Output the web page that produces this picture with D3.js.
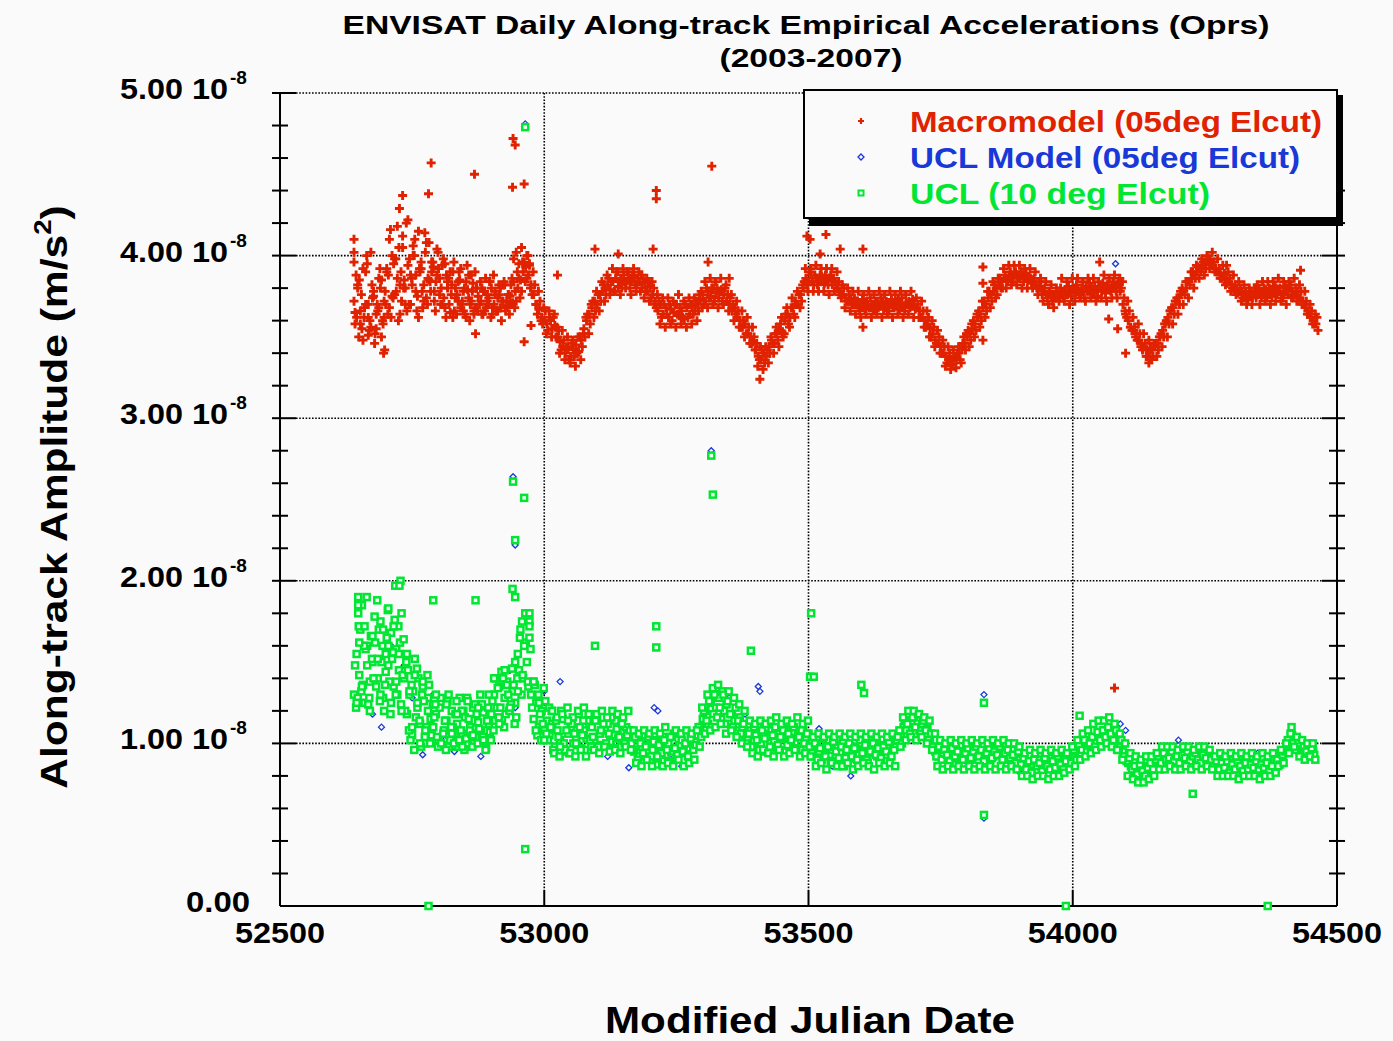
<!DOCTYPE html>
<html><head><meta charset="utf-8">
<script src="https://cdn.jsdelivr.net/npm/d3@7"></script>
<style>body{margin:0;background:#fafafa}svg{display:block}</style>
</head><body><svg id="c" width="1393" height="1041"></svg>
<script>
// ---- text ----
const titleLines = ["ENVISAT Daily Along-track Empirical Accelerations (Oprs)", "(2003-2007)"];
const xAxisTitle = "Modified Julian Date";
const yAxisTitle = "Along-track Amplitude (m/s";
const seriesNames = ["Macromodel (05deg Elcut)", "UCL Model (05deg Elcut)", "UCL (10 deg Elcut)"];
// ---- ticks ----
const xTicks = [52500, 53000, 53500, 54000, 54500];
const xGrid = [53000, 53500, 54000];
const yTicks = [0, 1, 2, 3, 4, 5];           // in units of 10^-8 m/s^2
const yTickText = ["0.00", "1.00 10", "2.00 10", "3.00 10", "4.00 10", "5.00 10"];
const yTickExp = ["", "-8", "-8", "-8", "-8", "-8"];
const yMinor = [0.2,0.4,0.6,0.8,1.2,1.4,1.6,1.8,2.2,2.4,2.6,2.8,3.2,3.4,3.6,3.8,4.2,4.4,4.6,4.8];
// ---- data (values in 10^-8 m/s^2), sampled every 5 days from start MJD ----
const startMJD = 52640, startMJD2 = 52642, startMJD3 = 52644, stepDays = 5;
const macroValues = [
3.72,3.62,3.85,3.55,3.68,3.95,3.60,3.74,3.52,3.66,3.80,3.58,
3.70,3.88,3.62,3.95,3.78,4.05,3.72,3.85,3.66,3.98,3.82,4.10,3.75,3.90,3.68,4.02,3.86,3.78,3.93,3.84,
3.92,3.80,3.74,3.88,3.70,3.82,3.66,3.76,3.85,3.72,3.64,3.79,3.70,3.83,3.68,3.75,
3.72,3.78,3.68,3.74,3.80,3.70,3.66,3.76,3.72,3.82,3.69,3.75,3.71,3.78,
3.80,3.85,3.90,3.93,3.88,
3.82,3.76,3.70,3.67,3.62,
3.60,3.58,3.62,3.55,3.57,
3.50,3.47,3.44,3.40,3.43,3.38,3.42,3.45,3.41,3.48,
3.55,3.60,3.64,3.68,3.72,3.70,3.76,3.78,3.80,
3.82,3.79,3.84,3.86,3.81,3.85,3.88,3.83,3.86,3.84,3.87,3.82,
3.84,3.80,3.83,3.78,3.81,3.76,
3.72,3.66,3.70,3.64,3.68,3.62,3.67,3.65,3.70,3.63,3.66,3.61,3.68,3.64,3.69,3.66,3.70,
3.73,3.76,3.72,3.78,3.75,3.80,3.77,3.74,3.79,3.76,3.72,
3.70,3.66,3.68,3.62,3.60,3.56,3.58,3.52,3.50,3.47,
3.42,3.38,3.36,3.40,3.38,
3.44,3.48,3.46,3.52,3.55,3.53,3.60,3.64,3.62,3.68,3.72,3.70,3.76,
3.80,3.86,3.84,3.88,3.82,3.86,3.84,3.87,3.83,3.85,3.86,3.82,3.84,3.80,
3.78,3.76,3.74,3.72,3.73,3.70,
3.70,3.68,3.71,3.69,3.72,3.68,3.70,3.67,3.71,3.69,3.72,3.70,3.68,3.71,3.69,3.70,3.73,3.70,3.68,3.71,3.72,3.69,3.70,
3.68,3.66,3.62,3.60,3.58,3.55,3.52,3.48,3.46,3.44,
3.40,3.38,3.36,3.35,3.37,3.36,3.40,3.43,
3.46,3.50,3.52,3.55,3.58,3.62,3.64,3.68,3.70,3.74,3.76,3.78,3.80,
3.82,3.84,3.86,3.85,3.88,3.87,3.89,3.88,3.86,3.88,3.87,3.85,3.86,
3.84,3.82,3.80,3.81,3.78,3.76,3.77,3.74,3.76,
3.78,3.75,3.77,3.79,3.76,3.78,3.80,3.77,3.79,3.76,3.78,3.81,3.78,3.80,3.77,3.79,3.81,3.78,3.80,3.82,3.79,3.81,3.80,3.82,3.78,
3.70,3.64,3.60,3.56,
3.54,3.52,3.48,3.46,3.44,3.42,3.40,3.42,3.44,3.46,3.50,
3.54,3.58,3.62,3.66,3.68,3.72,3.74,3.76,3.78,3.80,
3.84,3.86,3.88,3.90,3.92,3.93,3.95,3.96,3.97,
3.94,3.92,3.90,3.88,3.87,3.85,3.84,3.82,3.80,3.79,3.78,3.77,3.76,3.75,3.76,3.74,
3.77,3.76,3.78,3.77,3.79,3.76,3.78,3.77,3.80,3.78,3.76,3.77,3.79,3.80,3.78,3.76,3.78,
3.74,3.72,3.68,3.66,3.62,3.60,3.58];
// second daily sample set, offset by two days
const macroValues2 = [
3.58,3.82,3.66,3.48,3.90,3.70,3.56,3.78,3.64,3.86,3.50,3.72,
3.92,3.68,4.00,3.76,3.86,3.64,4.12,3.80,3.94,3.70,4.06,3.88,3.62,3.96,3.82,3.74,4.08,3.90,3.72,3.88,
3.76,3.94,3.68,3.84,3.90,3.62,3.80,3.72,3.92,3.66,3.84,3.74,3.88,3.64,3.80,3.70,
3.80,3.66,3.76,3.84,3.64,3.78,3.74,3.68,3.82,3.66,3.76,3.70,3.84,3.72,
3.86,3.78,3.96,3.86,3.94,
3.76,3.82,3.64,3.72,3.58,
3.66,3.54,3.60,3.62,3.50,
3.54,3.42,3.48,3.44,3.36,3.46,3.38,3.40,3.50,3.44,
3.50,3.64,3.58,3.72,3.66,3.76,3.72,3.82,3.76,
3.86,3.84,3.78,3.90,3.84,3.80,3.84,3.90,3.80,3.88,3.82,3.86,
3.78,3.86,3.78,3.84,3.74,3.80,
3.68,3.72,3.62,3.70,3.64,3.70,3.60,3.70,3.64,3.68,3.62,3.70,3.62,3.70,3.64,3.72,3.66,
3.78,3.70,3.80,3.74,3.80,3.72,3.80,3.78,3.72,3.80,3.76,
3.74,3.70,3.64,3.66,3.56,3.60,3.52,3.56,3.46,3.50,
3.46,3.36,3.42,3.34,3.42,
3.40,3.46,3.52,3.48,3.58,3.50,3.64,3.58,3.68,3.64,3.70,3.76,3.72,
3.84,3.82,3.90,3.84,3.88,3.82,3.88,3.84,3.88,3.82,3.88,3.86,3.82,3.84,
3.74,3.80,3.72,3.76,3.70,3.74,
3.72,3.66,3.73,3.67,3.70,3.74,3.66,3.72,3.68,3.74,3.67,3.72,3.66,3.73,3.68,3.72,3.67,3.74,3.66,3.70,3.68,3.73,3.67,
3.70,3.62,3.66,3.56,3.62,3.50,3.56,3.46,3.50,3.40,
3.44,3.34,3.40,3.33,3.38,3.40,3.36,3.46,
3.42,3.54,3.48,3.60,3.54,3.66,3.60,3.72,3.66,3.78,3.72,3.82,3.76,
3.86,3.80,3.88,3.84,3.90,3.84,3.90,3.86,3.90,3.84,3.89,3.87,3.83,
3.86,3.80,3.84,3.76,3.80,3.74,3.78,3.72,3.74,
3.75,3.80,3.74,3.77,3.81,3.75,3.79,3.82,3.76,3.80,3.74,3.78,3.83,3.77,3.81,3.75,3.80,3.83,3.77,3.82,3.78,3.84,3.78,3.83,3.80,
3.74,3.62,3.66,3.54,
3.56,3.48,3.52,3.42,3.46,3.38,3.43,3.38,3.46,3.42,3.52,
3.50,3.60,3.58,3.68,3.64,3.74,3.70,3.80,3.76,3.84,
3.82,3.90,3.86,3.93,3.90,3.96,3.92,3.98,3.95,
3.96,3.90,3.92,3.86,3.89,3.83,3.86,3.80,3.82,3.77,3.80,3.74,3.78,3.73,3.78,3.76,
3.74,3.79,3.75,3.80,3.74,3.80,3.75,3.81,3.76,3.80,3.74,3.81,3.76,3.82,3.75,3.80,3.74,
3.78,3.70,3.72,3.64,3.66,3.58,3.62];
// third daily sample set, offset by four days (wider day-to-day scatter)
const macroValues3 = [
3.88,3.50,3.76,3.62,4.00,3.54,3.82,3.46,3.70,3.92,3.60,3.78,
3.64,4.16,3.74,3.98,3.60,3.90,3.80,4.20,3.70,3.86,4.00,3.66,3.92,3.78,4.14,3.70,3.84,3.96,3.66,4.02,
3.70,3.98,3.62,3.86,3.76,3.96,3.64,3.90,3.70,3.80,3.94,3.60,3.78,3.90,3.66,3.84,
3.64,3.86,3.70,3.62,3.88,3.66,3.82,3.60,3.84,3.72,3.64,3.86,3.68,3.90,
3.74,3.96,3.84,4.00,3.80,
3.90,3.70,3.78,3.60,3.68,
3.52,3.66,3.50,3.64,3.56,
3.40,3.54,3.36,3.50,3.34,3.48,3.32,3.50,3.36,3.52,
3.62,3.52,3.70,3.62,3.78,3.66,3.84,3.72,3.88,
3.76,3.92,3.78,3.90,3.76,3.92,3.80,3.90,3.76,3.92,3.78,3.90,
3.88,3.74,3.86,3.72,3.84,3.70,
3.76,3.58,3.74,3.56,3.74,3.58,3.72,3.56,3.76,3.58,3.72,3.56,3.74,3.58,3.74,3.60,3.76,
3.68,3.84,3.68,3.86,3.70,3.84,3.68,3.86,3.70,3.82,3.66,
3.76,3.60,3.72,3.56,3.66,3.50,3.62,3.46,3.56,3.42,
3.32,3.44,3.30,3.44,3.34,
3.50,3.40,3.56,3.44,3.62,3.52,3.68,3.56,3.74,3.62,3.78,3.68,3.82,
3.92,3.78,3.92,3.78,3.94,3.78,3.92,3.78,3.92,3.76,3.92,3.78,3.90,3.76,
3.82,3.68,3.80,3.66,3.78,3.64,
3.78,3.62,3.76,3.64,3.78,3.62,3.76,3.64,3.78,3.62,3.76,3.64,3.78,3.62,3.76,3.64,3.78,3.62,3.76,3.64,3.78,3.62,3.74,
3.62,3.72,3.56,3.66,3.50,3.60,3.44,3.54,3.40,3.48,
3.32,3.44,3.30,3.42,3.31,3.44,3.34,3.50,
3.52,3.44,3.58,3.50,3.64,3.56,3.72,3.62,3.78,3.68,3.84,3.74,3.86,
3.80,3.92,3.80,3.94,3.82,3.94,3.82,3.94,3.80,3.92,3.80,3.92,3.80,
3.90,3.76,3.86,3.72,3.84,3.70,3.82,3.68,3.80,
3.72,3.86,3.72,3.84,3.70,3.86,3.72,3.86,3.74,3.84,3.72,3.86,3.74,3.86,3.72,3.84,3.74,3.88,3.72,3.86,3.74,3.88,3.74,3.86,3.84,
3.66,3.72,3.56,3.62,
3.50,3.58,3.44,3.52,3.38,3.48,3.36,3.46,3.38,3.50,3.44,
3.58,3.50,3.66,3.58,3.72,3.64,3.78,3.70,3.84,3.74,
3.90,3.80,3.94,3.86,3.98,3.88,4.00,3.92,4.02,
3.90,3.98,3.86,3.94,3.82,3.90,3.78,3.88,3.76,3.84,3.72,3.82,3.70,3.80,3.70,3.80,
3.82,3.70,3.84,3.72,3.84,3.70,3.84,3.72,3.86,3.72,3.84,3.70,3.84,3.74,3.86,3.72,3.82,
3.70,3.78,3.64,3.70,3.58,3.64,3.54];
// additional scattered Macromodel days [MJD, value]
const macroExtra = [
[52640,4.10],[52640,4.02],[52640,3.96],[52642,3.65],[52647,3.80],[52652,3.58],[52657,3.92],[52662,3.70],[52667,3.62],[52672,4.02],
[52677,3.75],[52682,3.55],[52687,3.68],[52692,3.85],[52697,3.62],[52702,3.90],[52707,4.10],[52712,3.75],[52717,3.98],[52722,4.18],
[52727,3.82],[52732,4.05],[52737,3.70],[52742,4.22],[52747,3.88],[52752,4.00],[52757,3.78],[52762,4.15],[52767,3.92],[52772,3.72],
[52777,4.08],[52782,3.85],[52787,3.96],[52792,3.78],[52797,4.04],[52802,3.86],[52807,3.70],[52812,3.95],[52817,3.80],[52822,3.65],
[52827,3.90],[52832,3.74],[52837,3.84],[52842,3.68],[52847,3.78],[52852,3.62],[52857,3.88],[52862,3.72],[52867,3.66],[52872,3.80],
[52877,3.70],[52882,3.64],[52887,3.78],[52892,3.72],[52897,3.84],[52902,3.68],[52907,3.76],[52912,3.66],[52917,3.80],[52922,3.72],
[52927,3.68],[52932,3.76],[52937,3.82],[52942,3.98],[52947,4.02],[52952,3.95],[52957,4.05],[52967,4.00],[52972,3.95],
[52786,4.57],[52732,4.37],[52868,4.50],[52941,4.72],[52945,4.68],[52940,4.42],[52962,4.44],[52962,3.47],[52696,3.40],[52698,3.42],
[53212,4.40],[53212,4.35],[53317,4.55],[53497,4.12],[53503,4.10],[53533,4.13],[53522,4.01],[53560,4.04],[53603,4.04],[53830,3.93],
[53830,3.83],[53830,3.48],[53603,3.56],[53408,3.24],[53350,3.86],[53310,3.96],[53096,4.04],[53140,4.01],[53206,4.04],[53025,3.88],
[52975,3.57],[52870,3.52],[52667,3.51],[52726,4.29],[52781,4.38],[54051,3.96],[54431,3.91],[54291,3.94],[54144,3.34],[54100,3.40],
[54068,3.61],[54085,3.55],[54079,1.34]];
const uclValues = [
1.30,1.55,1.42,1.85,1.25,1.60,1.38,1.50,
1.62,1.40,1.75,1.28,1.55,1.48,1.68,1.35,1.58,1.45,1.80,
1.40,1.18,1.30,1.05,1.52,1.22,1.12,1.35,1.00,1.28,1.15,
1.10,1.18,1.02,1.25,1.08,1.14,0.98,1.20,1.05,1.12,1.28,1.06,1.16,1.00,1.10,1.22,1.04,1.13,1.08,1.19,0.97,1.12,
1.18,1.30,1.22,1.35,1.15,1.28,1.38,1.20,1.32,1.25,
1.55,1.70,1.40,1.62,1.35,
1.30,1.15,1.25,1.10,1.20,1.08,1.14,
1.05,1.12,0.98,1.08,1.02,1.15,0.95,1.06,1.10,1.00,1.04,1.18,0.97,1.08,1.03,1.12,
1.10,1.02,1.15,1.06,0.99,1.08,1.12,1.01,1.05,1.14,1.03,0.98,1.07,1.10,1.02,
1.00,0.95,1.03,0.92,0.98,1.05,0.90,0.99,0.96,1.02,0.88,0.97,1.04,0.93,1.00,0.95,1.06,0.91,0.99,1.02,0.94,1.00,0.97,1.05,1.01,
1.05,1.10,1.15,1.20,1.12,1.25,1.18,1.22,1.28,1.15,1.20,1.24,1.12,1.18,1.14,1.08,1.16,1.10,1.05,
1.02,1.08,0.98,1.05,1.10,1.00,1.06,0.95,1.04,1.08,1.01,0.97,1.06,1.03,1.09,0.99,1.04,1.07,1.00,1.05,0.96,1.08,1.02,1.06,
0.98,0.92,1.00,0.95,0.90,0.97,1.02,0.93,0.96,0.88,0.99,0.94,1.01,0.91,0.97,0.95,0.87,0.98,0.93,1.00,0.96,0.90,0.97,0.94,1.02,0.92,0.96,0.99,0.93,0.97,0.95,1.00,0.98,
1.02,1.06,1.10,1.08,1.14,1.12,1.16,1.10,1.08,1.12,1.05,1.09,1.02,0.98,
0.95,0.92,0.97,0.94,0.90,0.96,0.93,0.98,0.91,0.95,0.94,0.97,0.92,0.96,0.90,0.94,0.98,0.93,0.95,0.91,0.96,0.94,0.92,0.97,0.93,0.95,0.90,0.94,0.92,0.96,0.93,0.91,
0.90,0.86,0.88,0.84,0.89,0.87,0.83,0.90,0.86,0.88,0.85,0.91,0.87,0.84,0.89,0.86,0.88,0.92,0.87,0.90,
0.92,0.95,0.98,0.94,1.00,0.97,1.02,0.99,1.04,1.01,1.06,1.03,1.08,1.05,1.10,1.04,1.07,1.00,0.98,0.95,
0.92,0.88,0.86,0.83,0.85,0.82,0.80,0.84,0.86,0.83,0.87,0.89,
0.90,0.93,0.89,0.92,0.95,0.90,0.88,0.93,0.91,0.94,0.89,0.92,0.90,0.95,0.91,0.88,0.92,0.90,0.93,0.89,0.91,
0.88,0.85,0.89,0.86,0.83,0.87,0.84,0.88,0.86,0.82,0.87,0.85,0.89,0.86,0.84,0.88,0.85,0.87,0.83,0.86,0.88,0.85,0.87,0.89,
0.88,0.91,0.90,0.94,0.97,1.00,1.05,0.98,1.02,0.95,0.97,0.93,0.96,0.94,0.95];
const uclValues2 = [
1.48,1.28,1.70,1.36,1.58,1.24,1.66,1.40,
1.35,1.70,1.50,1.20,1.65,1.38,1.52,1.76,1.30,1.62,1.42,
1.20,1.45,1.02,1.32,1.16,1.40,0.98,1.26,1.10,1.36,1.05,
1.16,1.04,1.22,0.99,1.14,1.26,1.02,1.10,1.18,0.98,1.08,1.20,1.03,1.15,1.06,1.00,1.18,1.09,1.24,1.02,1.14,1.07,
1.26,1.14,1.34,1.22,1.40,1.18,1.30,1.24,1.36,1.16,
1.45,1.30,1.60,1.50,1.75,
1.22,1.36,1.05,1.18,1.12,1.26,1.02,
1.10,0.96,1.14,1.04,1.20,1.00,1.08,0.94,1.12,1.06,0.99,1.10,1.05,0.96,1.14,1.02,
1.04,1.14,0.98,1.08,1.12,1.00,1.06,1.16,0.97,1.09,1.04,1.12,1.00,1.05,1.08,
0.96,1.04,0.90,1.00,0.94,0.98,1.04,0.92,1.01,0.87,0.99,0.94,1.02,0.96,0.89,1.04,0.97,0.93,1.06,0.95,1.00,0.92,1.03,0.96,0.99,
1.10,1.04,1.20,1.14,1.26,1.10,1.30,1.16,1.22,1.32,1.12,1.26,1.18,1.10,1.22,1.14,1.06,1.12,1.00,
1.06,0.98,1.10,1.02,0.96,1.08,1.03,1.12,0.98,1.05,1.10,0.99,1.04,1.08,0.95,1.06,1.02,1.10,0.97,1.04,1.08,1.00,1.06,0.98,
0.94,1.00,0.90,0.97,1.03,0.92,0.98,0.89,1.01,0.95,0.91,0.98,0.86,0.96,1.00,0.92,0.97,0.90,1.02,0.94,0.99,0.88,0.95,1.00,0.93,0.97,0.91,0.98,0.95,1.01,0.92,0.96,1.02,
1.08,1.00,1.14,1.12,1.06,1.16,1.10,1.18,1.06,1.14,1.08,1.02,1.06,0.96,
0.92,0.98,0.90,0.96,0.93,0.89,0.97,0.92,0.95,0.99,0.90,0.94,0.97,0.91,0.95,0.98,0.92,0.96,0.89,0.94,0.97,0.91,0.95,0.93,0.98,0.90,0.94,0.96,0.91,0.93,0.88,0.95,
0.87,0.91,0.84,0.89,0.82,0.90,0.86,0.88,0.83,0.91,0.86,0.84,0.89,0.85,0.92,0.87,0.84,0.89,0.93,0.88,
0.96,0.90,0.99,0.96,1.02,0.95,1.00,1.04,0.98,1.07,1.02,1.08,1.04,1.10,1.06,1.02,1.08,0.96,1.02,0.92,
0.89,0.91,0.84,0.86,0.81,0.87,0.83,0.80,0.85,0.88,0.84,0.90,
0.92,0.88,0.94,0.90,0.91,0.95,0.89,0.92,0.88,0.93,0.91,0.95,0.89,0.92,0.94,0.90,0.88,0.93,0.91,0.95,0.90,
0.86,0.89,0.84,0.88,0.85,0.89,0.82,0.87,0.84,0.88,0.86,0.83,0.88,0.84,0.87,0.85,0.89,0.84,0.87,0.85,0.88,0.83,0.86,0.90,
0.90,0.87,0.93,0.95,1.02,1.06,1.00,0.96,1.00,0.93,0.98,0.95,0.92,0.97,0.93];
const uclValues3 = [
1.22,1.72,1.32,1.60,1.90,1.28,1.52,1.78,
1.88,1.26,1.60,1.36,1.82,1.18,1.56,1.30,1.72,1.24,1.64,
1.50,1.08,1.36,0.96,1.46,1.14,1.30,1.04,1.42,1.00,1.24,
1.24,0.98,1.28,1.06,0.96,1.30,1.10,1.00,1.26,1.02,1.20,0.96,1.28,1.08,0.98,1.24,1.00,1.30,1.04,0.96,1.22,1.02,
1.08,1.40,1.16,1.44,1.10,1.36,1.20,1.46,1.12,1.40,
1.65,1.42,1.80,1.38,1.58,
1.38,1.08,1.30,1.02,1.34,1.06,1.22,
1.20,0.94,1.16,0.92,1.18,0.96,1.22,0.94,1.16,0.92,1.20,0.96,1.14,0.92,1.18,0.98,
0.96,1.18,0.94,1.20,0.98,1.16,0.95,1.20,0.96,1.18,0.94,1.16,0.98,1.20,0.96,
1.08,0.88,1.06,0.86,1.08,0.90,1.06,0.86,1.08,0.92,1.06,0.86,1.10,0.88,1.04,0.86,1.08,0.90,1.06,0.86,1.08,0.88,1.06,0.90,1.08,
0.98,1.22,1.06,1.30,1.08,1.34,1.10,1.36,1.12,1.30,1.06,1.32,1.08,1.28,1.04,1.24,1.00,1.20,0.98,
1.14,0.94,1.12,0.92,1.14,0.96,1.12,0.94,1.14,0.92,1.16,0.96,1.12,0.92,1.14,0.94,1.12,0.96,1.16,0.92,1.12,0.94,1.14,0.92,
1.04,0.86,1.06,0.88,1.04,0.84,1.06,0.88,1.04,0.86,1.06,0.86,1.04,0.88,1.06,0.84,1.04,0.86,1.06,0.88,1.04,0.86,1.06,0.84,1.04,0.88,1.06,0.86,1.04,0.88,1.06,0.86,1.04,
0.98,1.16,1.02,1.20,1.04,1.20,1.02,1.18,1.04,1.16,1.00,1.14,0.96,1.06,
0.86,1.02,0.84,1.00,0.86,1.02,0.84,1.00,0.86,1.02,0.84,1.00,0.86,1.02,0.84,1.00,0.86,1.02,0.84,1.00,0.86,1.02,0.84,1.00,0.86,1.02,0.84,1.00,0.86,1.00,0.84,0.98,
0.80,0.94,0.80,0.96,0.78,0.94,0.80,0.96,0.80,0.94,0.78,0.96,0.80,0.94,0.80,0.96,0.82,0.94,0.84,0.98,
0.86,1.02,0.90,1.06,0.92,1.08,0.94,1.12,0.96,1.14,0.98,1.14,1.00,1.16,0.98,1.12,0.96,1.06,0.90,1.00,
0.80,0.94,0.78,0.92,0.76,0.90,0.76,0.92,0.78,0.92,0.80,0.94,
0.84,0.98,0.84,0.98,0.86,0.98,0.84,0.96,0.84,0.98,0.86,0.98,0.84,0.96,0.86,0.98,0.84,0.98,0.86,0.96,0.84,
0.92,0.80,0.94,0.80,0.92,0.80,0.94,0.80,0.92,0.78,0.94,0.80,0.92,0.80,0.94,0.80,0.92,0.78,0.94,0.80,0.92,0.80,0.94,0.82,
0.86,0.96,0.88,1.00,0.94,1.10,0.98,1.04,0.92,1.02,0.90,1.00,0.92,1.00,0.90];
const uclExtra = [
[52964,4.79],[52941,2.61],[52962,2.51],[52945,2.25],[53316,2.77],[53319,2.53],[52964,0.35],[52781,0],[53987,0],[54369,0],
[53505,1.80],[53212,1.72],[53212,1.59],[52790,1.88],[52870,1.88],[53832,0.56],[53832,1.25],[54227,0.69],[53096,1.60],[53391,1.57],
[53503,1.41],[53510,1.41],[53605,1.31],[53600,1.36],[52718,1.97],[52728,2.00],[52648,1.90],[52648,1.85],[52648,1.80],[52705,1.83],
[52726,1.97],[54013,1.17],[52940,1.95],[52945,1.90],[52972,1.80],[52972,1.72],[52972,1.65],
[52645,1.25],[52650,1.62],[52655,1.35],[52660,1.72],[52665,1.48],[52670,1.20],[52675,1.66],[52685,1.52],[52690,1.30],[52695,1.70],
[52700,1.44],[52705,1.60],[52710,1.25],[52715,1.72],[52720,1.38],[52725,1.55],[52730,1.20],[52740,1.55],[52745,1.32],[52750,1.10],
[52755,1.42],[52760,1.25],[52765,1.00],[52770,1.38],[52775,1.08],[52780,1.20],[52795,1.30],[52805,1.00],[52815,1.24],[52825,1.06],
[52835,1.18],[52845,0.98],[52855,1.26],[52865,1.05],[52875,1.22],[52885,1.02],[52895,1.30],[52905,1.40],[52915,1.12],[52925,1.45],
[52935,1.22],[52945,1.50],[52950,1.32],[52958,1.75],[52980,1.38],[52990,1.25],[53000,1.02],[53015,1.20],[53030,0.98],[53045,1.14],
[53060,1.00],[53075,1.22]];
const uclModel = [
[52964,4.81],[52941,2.64],[52945,2.22],[53316,2.80],[53408,1.32],[54081,3.95],[53832,1.30],[53832,0.54],[54100,1.08],[54010,1.02],
[52650,1.70],[52675,1.18],[52692,1.10],[52710,1.60],[52735,1.48],[52750,1.28],[52770,0.93],[52790,1.30],[52812,1.02],[52830,0.95],
[52858,0.98],[52880,0.92],[52900,1.18],[52935,1.45],[52945,1.22],[53000,1.32],[53030,1.38],[53055,1.05],[53120,0.92],[53160,0.85],
[53188,1.02],[53208,1.22],[53215,1.20],[53240,0.90],[53260,0.86],[53275,0.88],[53330,1.31],[53350,1.28],[53380,1.18],[53405,1.35],
[53470,1.02],[53520,1.09],[53545,0.86],[53580,0.80],[53640,0.98],[53700,1.15],[53745,0.93],[53800,0.88],[53850,0.96],[53900,0.82],
[53960,0.86],[54040,1.00],[54090,1.12],[54095,0.90],[54120,0.84],[54160,0.88],[54200,1.02],[54230,0.96],[54300,0.90],[54350,0.94],
[54410,1.04],[54440,0.97]];
const colors = {red:"#e02200", blue:"#1838d8", green:"#00e632"};

// ---- build ----
const svg = d3.select("#c");
const x = d3.scaleLinear().domain([52500, 54500]).range([280, 1337]);
const y = d3.scaleLinear().domain([0, 5]).range([906, 93]);
const font = "'Liberation Sans', Arial, Helvetica, sans-serif";

const macro = macroValues.map((v,i)=>[startMJD + i*stepDays, v])
  .concat(macroValues2.map((v,i)=>[startMJD2 + i*stepDays, v]))
  .concat(macroValues3.map((v,i)=>[startMJD3 + i*stepDays, v])).concat(macroExtra);
const ucl = uclValues.map((v,i)=>[startMJD + i*stepDays, v])
  .concat(uclValues2.map((v,i)=>[startMJD2 + i*stepDays, v]))
  .concat(uclValues3.map((v,i)=>[startMJD3 + i*stepDays, v])).concat(uclExtra);

// grid (dotted)
const grid = svg.append("g").attr("stroke","#000").attr("stroke-width",1.6).attr("stroke-dasharray","1.6,1.6");
grid.selectAll("line.h").data(yTicks.filter(d=>d>0)).join("line")
  .attr("x1", x(52500)+16).attr("x2", d=> d===5 ? x(54500) : x(54500)-15)
  .attr("y1", d=>y(d)).attr("y2", d=>y(d));
grid.selectAll("line.v").data(xGrid).join("line")
  .attr("x1", d=>x(d)).attr("x2", d=>x(d))
  .attr("y1", y(5)).attr("y2", y(0)-16);

// axes lines
const ax = svg.append("g").attr("stroke","#000").attr("stroke-width",2);
ax.append("line").attr("x1",x(52500)).attr("x2",x(52500)).attr("y1",y(5)).attr("y2",y(0));
ax.append("line").attr("x1",x(54500)).attr("x2",x(54500)).attr("y1",y(4.95)).attr("y2",y(0));
ax.append("line").attr("x1",x(52500)).attr("x2",x(54500)).attr("y1",y(0)).attr("y2",y(0));
ax.selectAll("line.ml").data(yTicks.filter(d=>d>0)).join("line")
  .attr("x1",x(52500)-8).attr("x2",x(52500)+16).attr("y1",d=>y(d)).attr("y2",d=>y(d));
ax.selectAll("line.mr").data(yTicks.filter(d=>d>0 && d<5)).join("line")
  .attr("x1",x(54500)-15).attr("x2",x(54500)+8).attr("y1",d=>y(d)).attr("y2",d=>y(d));
ax.selectAll("line.nl").data(yMinor).join("line")
  .attr("x1",x(52500)-8).attr("x2",x(52500)+8).attr("y1",d=>y(d)).attr("y2",d=>y(d));
ax.selectAll("line.nr").data(yMinor.filter(d=>d<4.6)).join("line")
  .attr("x1",x(54500)-8).attr("x2",x(54500)+8).attr("y1",d=>y(d)).attr("y2",d=>y(d));
ax.selectAll("line.xt").data(xGrid).join("line")
  .attr("x1",d=>x(d)).attr("x2",d=>x(d)).attr("y1",y(0)).attr("y2",y(0)-16);

// tick labels
const xl = svg.append("g").attr("font-family",font).attr("font-weight","bold").attr("font-size",30).attr("fill","#000");
xl.selectAll("text").data(xTicks).join("text")
  .attr("x",d=>x(d)).attr("y",y(0)+37).attr("text-anchor","middle")
  .attr("textLength",90).attr("lengthAdjust","spacingAndGlyphs").text(d=>d);
const yl = svg.append("g").attr("font-family",font).attr("font-weight","bold").attr("fill","#000");
yTicks.forEach((d,i)=>{
  if (yTickExp[i]) {
    yl.append("text").attr("x",228).attr("y",y(d)+6).attr("text-anchor","end").attr("font-size",30)
      .attr("textLength",108).attr("lengthAdjust","spacingAndGlyphs").text(yTickText[i]);
    yl.append("text").attr("x",230).attr("y",y(d)-9).attr("font-size",19).text(yTickExp[i]);
  } else {
    yl.append("text").attr("x",250).attr("y",y(d)+6).attr("text-anchor","end").attr("font-size",30)
      .attr("textLength",64).attr("lengthAdjust","spacingAndGlyphs").text(yTickText[i]);
  }
});

// markers
const plus = "M-4.5,0H4.5M0,-4.5V4.5";
const diamond = "M0,-3L3,0L0,3L-3,0Z";
svg.append("g").selectAll("path").data(uclModel).join("path")
  .attr("d",diamond).attr("transform",d=>`translate(${x(d[0])},${y(d[1])})`)
  .attr("fill","none").attr("stroke",colors.blue).attr("stroke-width",1.3);
svg.append("g").selectAll("rect").data(ucl).join("rect")
  .attr("x",d=>x(d[0])-3).attr("y",d=>y(d[1])-3).attr("width",6).attr("height",6)
  .attr("fill","#f4fff4").attr("stroke",colors.green).attr("stroke-width",2.5);
svg.append("g").selectAll("path").data(macro).join("path")
  .attr("d",plus).attr("transform",d=>`translate(${x(d[0])},${y(d[1])})`)
  .attr("fill","none").attr("stroke",colors.red).attr("stroke-width",2.9);

// legend
const lg = svg.append("g");
lg.append("rect").attr("x",809).attr("y",95).attr("width",534).attr("height",131).attr("fill","#000");
lg.append("rect").attr("x",804).attr("y",90).attr("width",533).attr("height",128).attr("fill","#fafafa").attr("stroke","#000").attr("stroke-width",2);
const legRows = [
  {name:seriesNames[0], color:colors.red, mark:"plus", w:412},
  {name:seriesNames[1], color:colors.blue, mark:"diamond", w:390},
  {name:seriesNames[2], color:colors.green, mark:"square", w:300}];
legRows.forEach((r,i)=>{
  const cy = 121 + i*36;
  if (r.mark==="plus") lg.append("path").attr("d","M-3,0H3M0,-3V3").attr("transform",`translate(861,${cy})`).attr("stroke",r.color).attr("stroke-width",2.2);
  if (r.mark==="diamond") lg.append("path").attr("d",diamond).attr("transform",`translate(861,${cy})`).attr("fill","none").attr("stroke",r.color).attr("stroke-width",1.3);
  if (r.mark==="square") lg.append("rect").attr("x",858.5).attr("y",cy-2.5).attr("width",5).attr("height",5).attr("fill","#fafafa").attr("stroke",r.color).attr("stroke-width",2);
  lg.append("text").attr("x",910).attr("y",cy+11).attr("font-family",font).attr("font-weight","bold")
    .attr("font-size",30).attr("fill",r.color).attr("textLength",r.w).attr("lengthAdjust","spacingAndGlyphs").text(r.name);
});

// titles
svg.append("text").attr("x",806).attr("y",34).attr("text-anchor","middle").attr("font-family",font)
  .attr("font-weight","bold").attr("font-size",26).attr("textLength",927).attr("lengthAdjust","spacingAndGlyphs").text(titleLines[0]);
svg.append("text").attr("x",811).attr("y",67).attr("text-anchor","middle").attr("font-family",font)
  .attr("font-weight","bold").attr("font-size",26).attr("textLength",183).attr("lengthAdjust","spacingAndGlyphs").text(titleLines[1]);
svg.append("text").attr("x",810).attr("y",1033).attr("text-anchor","middle").attr("font-family",font)
  .attr("font-weight","bold").attr("font-size",36).attr("textLength",410).attr("lengthAdjust","spacingAndGlyphs").text(xAxisTitle);
const yt = svg.append("text").attr("transform","translate(67,497) rotate(-90) scale(1.15,1)").attr("text-anchor","middle")
  .attr("font-family",font).attr("font-weight","bold").attr("font-size",37);
yt.append("tspan").text(yAxisTitle);
yt.append("tspan").attr("dy",-16).attr("font-size",24).text("2");
yt.append("tspan").attr("dy",16).text(")");
</script></body></html>
